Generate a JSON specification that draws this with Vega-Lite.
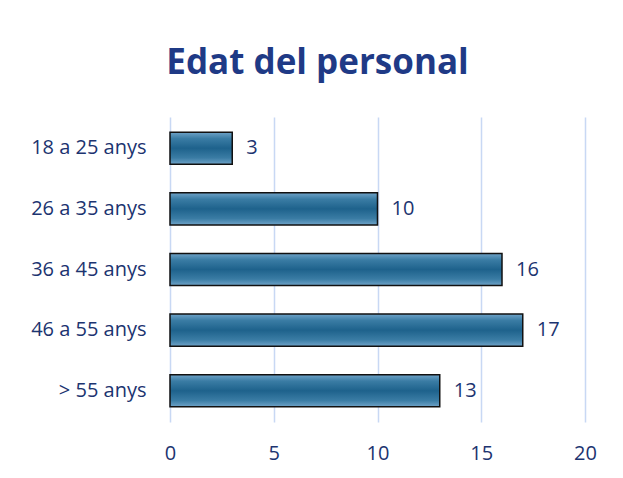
{
  "$schema": "https://vega.github.io/schema/vega-lite/v6.json",
  "width": 415,
  "height": 305,
  "autosize": {"type": "none"},
  "padding": {"left": 170, "top": 117, "right": 38, "bottom": 56},
  "background": "white",
  "title": {
    "text": "Edat del personal",
    "font": "Open Sans",
    "fontSize": 35,
    "fontWeight": "bold",
    "color": "#1f3a86",
    "anchor": "middle",
    "dx": -60,
    "offset": 36
  },
  "config": {
    "view": {"stroke": null},
    "font": "Open Sans"
  },
  "data": {
    "values": [
      {"grup": "18 a 25 anys", "n": 3},
      {"grup": "26 a 35 anys", "n": 10},
      {"grup": "36 a 45 anys", "n": 16},
      {"grup": "46 a 55 anys", "n": 17},
      {"grup": "> 55 anys", "n": 13}
    ]
  },
  "encoding": {
    "y": {
      "field": "grup",
      "type": "nominal",
      "sort": null,
      "title": null,
      "scale": {"paddingInner": 0.47, "paddingOuter": 0.25},
      "axis": {
        "domain": false,
        "ticks": false,
        "labelFont": "Open Sans",
        "labelFontSize": 20,
        "labelColor": "#1c3470",
        "labelPadding": 24
      }
    },
    "x": {
      "field": "n",
      "type": "quantitative",
      "title": null,
      "scale": {"domain": [0, 20]},
      "axis": {
        "values": [0, 5, 10, 15, 20],
        "domain": false,
        "ticks": false,
        "grid": true,
        "gridColor": "#c8d8f4",
        "gridWidth": 1.5,
        "labelFlush": false,
        "labelFont": "Open Sans",
        "labelFontSize": 20,
        "labelColor": "#1c3470",
        "labelPadding": 21
      }
    }
  },
  "layer": [
    {
      "mark": {
        "type": "bar",
        "stroke": "#111111",
        "strokeWidth": 1.5,
        "fill": {
          "gradient": "linear",
          "x1": 0, "y1": 0, "x2": 0, "y2": 1,
          "stops": [
            {"offset": 0, "color": "#6fa3c8"},
            {"offset": 0.2, "color": "#3a7ca4"},
            {"offset": 0.5, "color": "#1e628c"},
            {"offset": 0.8, "color": "#3a7ca4"},
            {"offset": 1, "color": "#6fa3c8"}
          ]
        }
      }
    },
    {
      "mark": {
        "type": "text",
        "align": "left",
        "dx": 14,
        "font": "Open Sans",
        "fontSize": 20,
        "color": "#1c3470"
      },
      "encoding": {"text": {"field": "n", "type": "quantitative"}}
    }
  ]
}
